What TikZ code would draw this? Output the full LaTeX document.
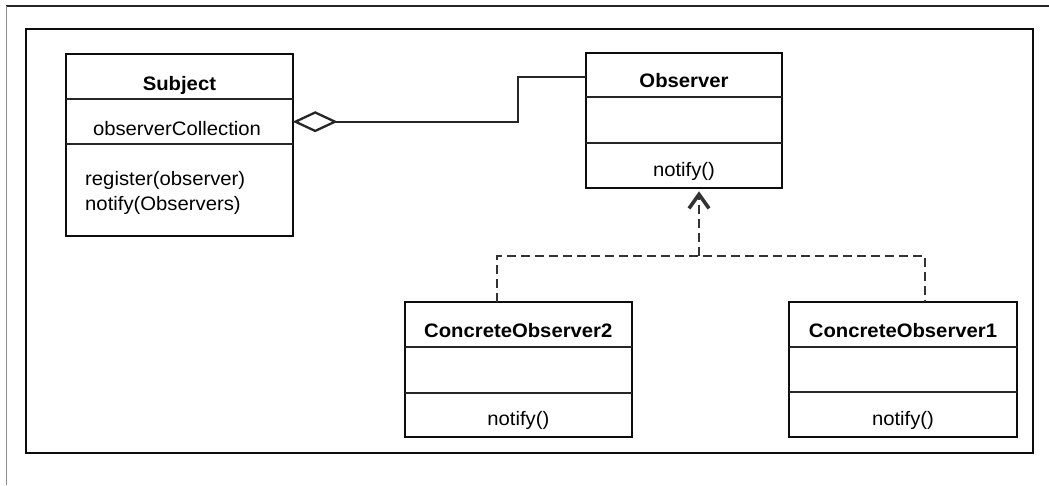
\documentclass[tikz,border=0pt]{standalone}
\usepackage{fontspec}
\setmainfont{Liberation Sans}[FakeStretch=1.04]
\usetikzlibrary{arrows.meta,calc}
\tikzset{
  classbox/.style={draw=black!95, line width=2.3pt, inner sep=0pt, outer sep=0pt, anchor=north west},
  divider/.style={draw=black!85, line width=1.8pt},
  txt/.style={font=\fontsize{19.5}{23}\selectfont, inner sep=0pt, anchor=base},
  ttl/.style={txt, font=\fontsize{19.5}{23}\selectfont\bfseries},
  agg/.style={draw=black!85, line width=2.3pt},
  dep/.style={draw=black!80, line width=2.3pt, dash pattern=on 9pt off 5pt},
}
\begin{document}
\begin{tikzpicture}[x=1pt,y=-1pt]
\useasboundingbox (0,0) rectangle (1049,485);
% outer frame edges
\draw[black!85, line width=1.5pt] (6,6) -- (1049,6);
\draw[black!45, line width=1.5pt] (6.5,6) -- (6.5,485);
% inner frame
\draw[black!95, line width=2.3pt] (26,29) rectangle (1032.7,453);

% Subject
\node[classbox, minimum width=226.7pt, minimum height=181.7pt] (subj) at (66,54) {};
\draw[divider] (66,99.3) -- (292.7,99.3);
\draw[divider] (66,144.3) -- (292.7,144.3);
\node[ttl] (subjT) at (179.4,90) {Subject};
\node[txt] (subjA) at (177,135) {observerCollection};
\node[txt, anchor=base west] (subjM1) at (85,185) {register(observer)};
\node[txt, anchor=base west] (subjM2) at (85,210) {notify(Observers)};

% Observer
\node[classbox, minimum width=196pt, minimum height=135pt] (obs) at (586,53.3) {};
\draw[divider] (586,97.3) -- (782,97.3);
\draw[divider] (586,143.3) -- (782,143.3);
\node[ttl] (obsT) at (684,87) {Observer};
\node[txt] (obsM) at (684,176) {notify()};

% ConcreteObserver2
\node[classbox, minimum width=226.7pt, minimum height=135pt] (co2) at (405,301.7) {};
\draw[divider] (405,346.7) -- (631.7,346.7);
\draw[divider] (405,392.7) -- (631.7,392.7);
\node[ttl] (co2T) at (518.3,337) {ConcreteObserver2};
\node[txt] (co2M) at (518.3,425) {notify()};

% ConcreteObserver1
\node[classbox, minimum width=227.4pt, minimum height=135pt] (co1) at (789.3,301.7) {};
\draw[divider] (789.3,347) -- (1016.7,347);
\draw[divider] (789.3,392) -- (1016.7,392);
\node[ttl] (co1T) at (903,337) {ConcreteObserver1};
\node[txt] (co1M) at (903,425) {notify()};

% aggregation Subject <>-- Observer
\draw[agg, {Diamond[open,length=45pt,width=21pt,line width=2.3pt]}-]
  ($(subj.north east)+(0,67.7)$) -- ++(225.3,0) |- ($(obs.north west)+(0,23.4)$);

% realization
\coordinate (j) at (699,256);
\draw[dep] ($(co2.north west)+(91.7,0)$) |- (j) -| ($(co1.north west)+(135.7,0)$);
\draw[dep, -{Straight Barb[length=14pt,width=20pt,line width=3.6pt]}] (j) -- ($(j |- obs.south)+(0,3)$);
\end{tikzpicture}
\end{document}
